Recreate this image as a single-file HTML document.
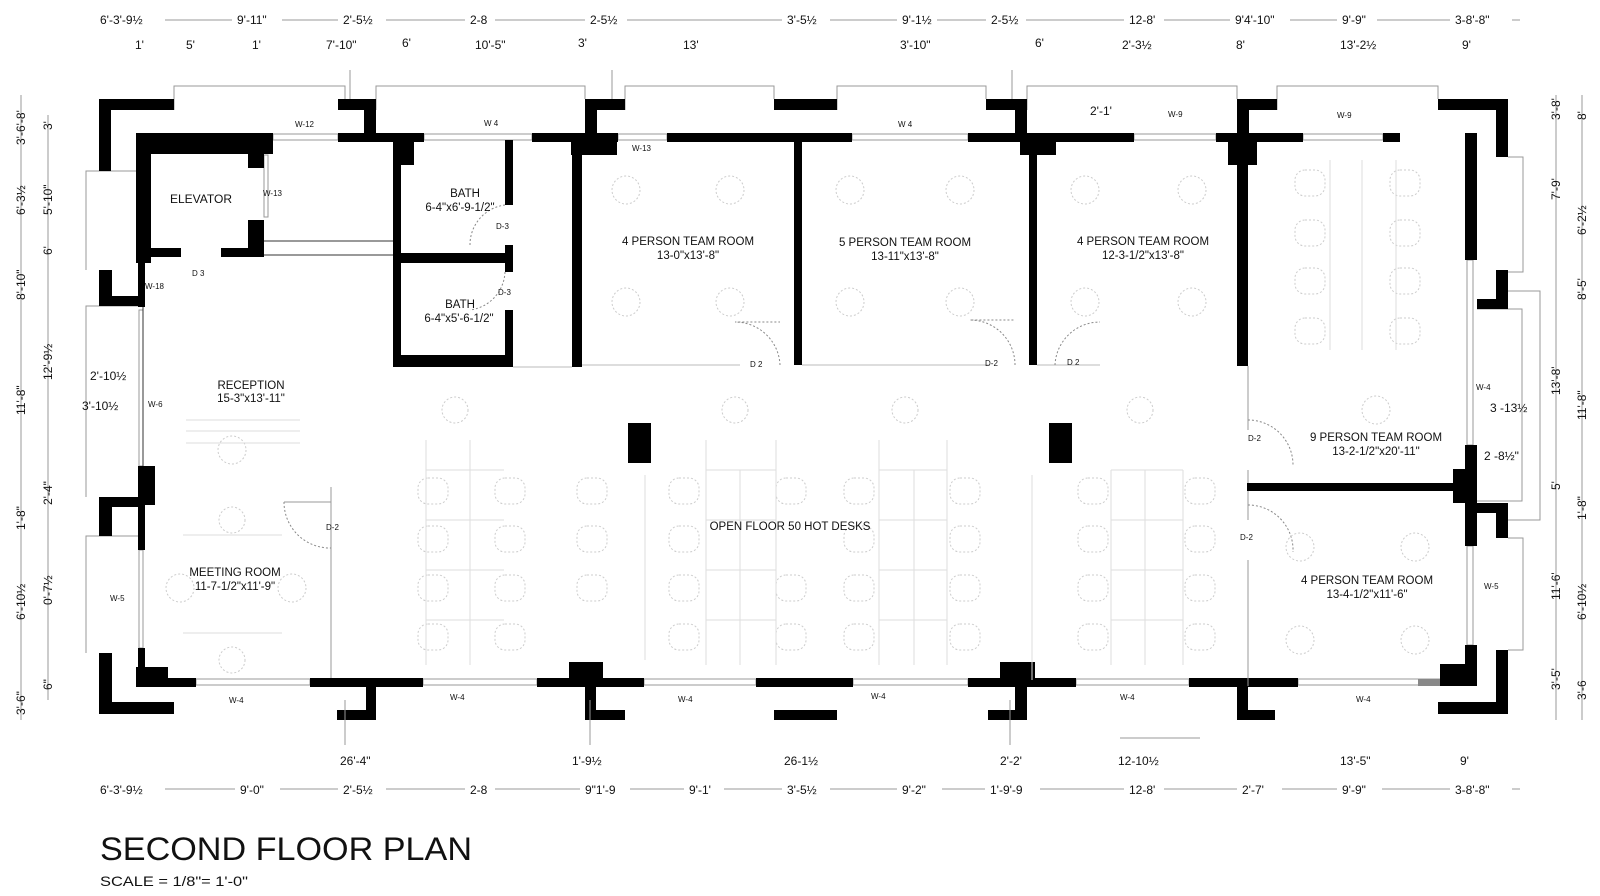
<!DOCTYPE html>
<html><head><meta charset="utf-8"><style>
html,body{margin:0;padding:0;background:#fff;}
svg{display:block;}
text{font-family:"Liberation Sans",sans-serif;fill:#111;}
.d{font-size:12px;fill:#555;}
.lbl{font-size:11.5px;text-anchor:middle;}
.w{font-size:8px;fill:#333;}
</style></head><body>
<svg width="1600" height="896" viewBox="0 0 1600 896" xmlns="http://www.w3.org/2000/svg">
<rect width="1600" height="896" fill="#fff"/>

<!-- window frames (thin) -->
<g fill="none" stroke="#999" stroke-width="1">
<path d="M174 110 V86 H345 V99"/><path d="M376 110 V86 H585 V99"/>
<path d="M625 110 V86 H774 V99"/><path d="M837 110 V86 H986 V99"/>
<path d="M1027 110 V86 H1237 V99"/><path d="M1277 110 V86 H1438 V99"/>
<path d="M1508 157 H1523 V272 H1508"/><path d="M1508 291 H1540 V520 H1508"/>
<path d="M1477 309 H1522 V501 H1477"/><path d="M1508 538 H1523 V650 H1508"/>
<path d="M138 171 H86 V270"/><path d="M138 306 H86 V497"/><path d="M138 536 H86 V653"/>
<rect x="273" y="134" width="65" height="6"/><rect x="424" y="134" width="108" height="6"/>
<rect x="618" y="134" width="49" height="6"/><rect x="852" y="134" width="116" height="6"/>
<rect x="1134" y="134" width="82" height="6"/><rect x="1303" y="134" width="80" height="6"/>
<rect x="196" y="679" width="114" height="6"/><rect x="423" y="679" width="114" height="6"/>
<rect x="644" y="679" width="112" height="6"/><rect x="853" y="679" width="115" height="6"/>
<rect x="1076" y="679" width="113" height="6"/><rect x="1298" y="679" width="142" height="6"/>
<rect x="1467" y="260" width="6" height="185"/><rect x="1467" y="546" width="6" height="99"/>
<rect x="139" y="310" width="4" height="156"/><rect x="139" y="550" width="4" height="98"/>
<rect x="264" y="155" width="4" height="62"/>
</g>

<!-- walls -->
<g fill="#000">
<!-- top outer -->
<rect x="99" y="99" width="75" height="11"/><rect x="99" y="99" width="12" height="72"/>
<rect x="338" y="99" width="38" height="11"/><rect x="364" y="99" width="12" height="35"/>
<rect x="585" y="99" width="40" height="11"/><rect x="585" y="99" width="12" height="36"/>
<rect x="774" y="99" width="63" height="11"/>
<rect x="986" y="99" width="41" height="11"/><rect x="1015" y="99" width="12" height="36"/>
<rect x="1237" y="99" width="40" height="11"/><rect x="1237" y="99" width="12" height="36"/>
<rect x="1438" y="99" width="70" height="11"/><rect x="1496" y="99" width="12" height="58"/>
<!-- right outer -->
<rect x="1496" y="270" width="12" height="39"/><rect x="1477" y="299" width="31" height="10"/>
<rect x="1477" y="503" width="31" height="10"/><rect x="1496" y="503" width="12" height="35"/>
<rect x="1496" y="650" width="12" height="64"/><rect x="1438" y="702" width="70" height="12"/>
<!-- left outer -->
<rect x="99" y="270" width="13" height="36"/><rect x="99" y="296" width="39" height="10"/>
<rect x="99" y="497" width="39" height="10"/><rect x="99" y="497" width="13" height="39"/>
<rect x="99" y="653" width="13" height="61"/><rect x="99" y="702" width="75" height="12"/>
<!-- bottom outer -->
<rect x="366" y="686" width="10" height="34"/><rect x="337" y="710" width="39" height="10"/>
<rect x="585" y="686" width="11" height="34"/><rect x="585" y="710" width="40" height="10"/>
<rect x="774" y="710" width="63" height="10"/>
<rect x="1015" y="686" width="12" height="34"/><rect x="988" y="710" width="39" height="10"/>
<rect x="1237" y="686" width="11" height="34"/><rect x="1237" y="710" width="38" height="10"/>
<!-- inner top -->
<rect x="136" y="133" width="137" height="21"/>
<rect x="338" y="133" width="86" height="9"/>
<rect x="532" y="133" width="86" height="9"/>
<rect x="571" y="133" width="46" height="22"/>
<rect x="667" y="133" width="185" height="9"/>
<rect x="968" y="133" width="166" height="9"/>
<rect x="1020" y="133" width="36" height="22"/>
<rect x="1216" y="133" width="87" height="9"/>
<rect x="1228" y="133" width="29" height="32"/>
<rect x="1383" y="133" width="17" height="9"/>
<!-- right inner -->
<rect x="1465" y="133" width="12" height="127"/>
<rect x="1465" y="445" width="12" height="101"/>
<rect x="1453" y="469" width="24" height="34"/>
<rect x="1465" y="645" width="12" height="41"/>
<rect x="1440" y="664" width="37" height="22"/>
<!-- bottom inner -->
<rect x="136" y="678" width="60" height="9"/><rect x="136" y="667" width="32" height="20"/>
<rect x="310" y="678" width="113" height="9"/>
<rect x="537" y="678" width="107" height="9"/><rect x="569" y="662" width="34" height="16"/>
<rect x="756" y="678" width="97" height="9"/>
<rect x="968" y="678" width="108" height="9"/><rect x="1000" y="662" width="35" height="16"/>
<rect x="1189" y="678" width="109" height="9"/>
<!-- left inner -->
<rect x="136" y="133" width="15" height="130"/>
<rect x="136" y="248" width="45" height="9"/><rect x="221" y="248" width="43" height="9"/>
<rect x="248" y="133" width="16" height="35"/><rect x="248" y="220" width="16" height="37"/>
<rect x="138" y="257" width="7" height="50"/>
<rect x="138" y="466" width="17" height="39"/><rect x="138" y="505" width="7" height="45"/>
<rect x="138" y="648" width="7" height="35"/>
<!-- bath -->
<rect x="393" y="140" width="8" height="227"/><rect x="393" y="140" width="21" height="25"/>
<rect x="393" y="355" width="120" height="12"/>
<rect x="401" y="253" width="112" height="10"/>
<rect x="505" y="140" width="8" height="65"/><rect x="505" y="245" width="8" height="27"/><rect x="505" y="310" width="8" height="57"/>
<!-- team room walls -->
<rect x="572" y="140" width="10" height="227"/>
<rect x="794" y="140" width="8" height="225"/>
<rect x="1029" y="140" width="8" height="225"/>
<rect x="1237" y="140" width="11" height="226"/>
<rect x="1247" y="483" width="206" height="8"/>
<!-- columns -->
<rect x="628" y="423" width="23" height="40"/><rect x="1049" y="423" width="23" height="40"/>
</g>
<rect x="1418" y="679" width="22" height="7" fill="#888"/>

<!-- thin interior lines -->
<g stroke="#333" stroke-width="1" fill="none">
<line x1="264" y1="241" x2="393" y2="241"/><line x1="264" y1="255" x2="393" y2="255"/>
<line x1="143" y1="307" x2="143" y2="466"/>
<line x1="582" y1="365" x2="740" y2="365" stroke="#bbb"/>
<line x1="802" y1="365" x2="990" y2="365" stroke="#bbb"/>
<line x1="1037" y1="365" x2="1100" y2="365" stroke="#bbb"/>
<line x1="1248" y1="366" x2="1248" y2="430" stroke="#999"/>
<line x1="1248" y1="470" x2="1248" y2="483" stroke="#999"/>
<line x1="1248" y1="491" x2="1248" y2="520" stroke="#999"/>
<line x1="1248" y1="560" x2="1248" y2="686" stroke="#999"/>
<line x1="331" y1="487" x2="331" y2="678" stroke="#999"/>
<line x1="284" y1="502" x2="331" y2="502" stroke="#999"/>
<line x1="513" y1="367" x2="572" y2="367" stroke="#bbb"/>
</g>

<!-- door arcs -->
<g stroke="#888" stroke-width="1" fill="none" stroke-dasharray="2,2">
<path d="M780 365 A45 45 0 0 0 735 322 L780 322"/>
<path d="M1015 365 A45 45 0 0 0 970 320 L1015 320"/>
<path d="M1055 365 A45 45 0 0 1 1100 322"/>
<path d="M1248 420 A45 45 0 0 1 1293 465"/>
<path d="M1248 505 A45 45 0 0 1 1293 552"/>
<path d="M284 502 A46 46 0 0 0 331 548"/>
<path d="M505 205 A40 40 0 0 0 470 245"/>
<path d="M505 272 A40 40 0 0 1 470 310"/>
</g>

<!-- furniture (faint) -->
<g stroke="#ccc" stroke-width="1" fill="none" stroke-dasharray="2,2">
<rect x="418" y="478" width="30" height="26" rx="10"/><rect x="418" y="526" width="30" height="26" rx="10"/><rect x="418" y="575" width="30" height="26" rx="10"/><rect x="418" y="624" width="30" height="26" rx="10"/>
<rect x="495" y="478" width="30" height="26" rx="10"/><rect x="495" y="526" width="30" height="26" rx="10"/><rect x="495" y="575" width="30" height="26" rx="10"/><rect x="495" y="624" width="30" height="26" rx="10"/>
<rect x="577" y="478" width="30" height="26" rx="10"/><rect x="577" y="526" width="30" height="26" rx="10"/><rect x="577" y="575" width="30" height="26" rx="10"/>
<rect x="669" y="478" width="30" height="26" rx="10"/><rect x="669" y="526" width="30" height="26" rx="10"/><rect x="669" y="575" width="30" height="26" rx="10"/><rect x="669" y="624" width="30" height="26" rx="10"/>
<rect x="776" y="478" width="30" height="26" rx="10"/><rect x="776" y="575" width="30" height="26" rx="10"/><rect x="776" y="624" width="30" height="26" rx="10"/>
<rect x="844" y="478" width="30" height="26" rx="10"/><rect x="844" y="526" width="30" height="26" rx="10"/><rect x="844" y="575" width="30" height="26" rx="10"/><rect x="844" y="624" width="30" height="26" rx="10"/>
<rect x="950" y="478" width="30" height="26" rx="10"/><rect x="950" y="526" width="30" height="26" rx="10"/><rect x="950" y="575" width="30" height="26" rx="10"/><rect x="950" y="624" width="30" height="26" rx="10"/>
<rect x="1078" y="478" width="30" height="26" rx="10"/><rect x="1078" y="526" width="30" height="26" rx="10"/><rect x="1078" y="575" width="30" height="26" rx="10"/><rect x="1078" y="624" width="30" height="26" rx="10"/>
<rect x="1185" y="478" width="30" height="26" rx="10"/><rect x="1185" y="526" width="30" height="26" rx="10"/><rect x="1185" y="575" width="30" height="26" rx="10"/><rect x="1185" y="624" width="30" height="26" rx="10"/>
<rect x="1295" y="170" width="30" height="26" rx="10"/><rect x="1295" y="220" width="30" height="26" rx="10"/><rect x="1295" y="268" width="30" height="26" rx="10"/><rect x="1295" y="318" width="30" height="26" rx="10"/>
<rect x="1390" y="170" width="30" height="26" rx="10"/><rect x="1390" y="220" width="30" height="26" rx="10"/><rect x="1390" y="268" width="30" height="26" rx="10"/><rect x="1390" y="318" width="30" height="26" rx="10"/>
<circle cx="626" cy="190" r="14"/><circle cx="730" cy="190" r="14"/><circle cx="626" cy="302" r="14"/><circle cx="730" cy="302" r="14"/>
<circle cx="850" cy="190" r="14"/><circle cx="960" cy="190" r="14"/><circle cx="850" cy="302" r="14"/><circle cx="960" cy="302" r="14"/>
<circle cx="1085" cy="190" r="14"/><circle cx="1192" cy="190" r="14"/><circle cx="1085" cy="302" r="14"/><circle cx="1192" cy="302" r="14"/>
<circle cx="455" cy="410" r="13"/><circle cx="735" cy="410" r="13"/><circle cx="905" cy="410" r="13"/><circle cx="1140" cy="410" r="13"/>
<circle cx="1300" cy="547" r="14"/><circle cx="1415" cy="547" r="14"/><circle cx="1300" cy="640" r="14"/><circle cx="1415" cy="640" r="14"/>
<circle cx="1376" cy="410" r="14"/><circle cx="232" cy="450" r="14"/><circle cx="232" cy="520" r="13"/><circle cx="232" cy="660" r="13"/>
<circle cx="180" cy="588" r="14"/><circle cx="292" cy="588" r="14"/>
</g>
<g stroke="#ddd" stroke-width="1" fill="none">
<line x1="426" y1="440" x2="426" y2="665"/><line x1="470" y1="440" x2="470" y2="665"/><line x1="426" y1="470" x2="504" y2="470"/><line x1="426" y1="520" x2="504" y2="520"/><line x1="426" y1="570" x2="504" y2="570"/><line x1="426" y1="620" x2="504" y2="620"/>
<line x1="706" y1="440" x2="706" y2="665"/><line x1="740" y1="470" x2="740" y2="665"/><line x1="776" y1="440" x2="776" y2="665"/><line x1="706" y1="470" x2="776" y2="470"/><line x1="706" y1="520" x2="776" y2="520"/><line x1="706" y1="570" x2="776" y2="570"/><line x1="706" y1="620" x2="776" y2="620"/>
<line x1="879" y1="440" x2="879" y2="665"/><line x1="914" y1="470" x2="914" y2="665"/><line x1="947" y1="440" x2="947" y2="665"/><line x1="879" y1="470" x2="947" y2="470"/><line x1="879" y1="520" x2="947" y2="520"/><line x1="879" y1="570" x2="947" y2="570"/><line x1="879" y1="620" x2="947" y2="620"/>
<line x1="1111" y1="470" x2="1111" y2="665"/><line x1="1145" y1="470" x2="1145" y2="665"/><line x1="1183" y1="470" x2="1183" y2="665"/><line x1="1111" y1="470" x2="1183" y2="470"/><line x1="1111" y1="520" x2="1183" y2="520"/><line x1="1111" y1="570" x2="1183" y2="570"/><line x1="1111" y1="620" x2="1183" y2="620"/>
<line x1="1362" y1="160" x2="1362" y2="350"/><line x1="1330" y1="160" x2="1330" y2="350"/><line x1="1396" y1="160" x2="1396" y2="350"/>
<line x1="1032" y1="475" x2="1032" y2="680"/><line x1="645" y1="475" x2="645" y2="660"/>
<line x1="186" y1="420" x2="300" y2="420"/><line x1="186" y1="431" x2="300" y2="431"/><line x1="186" y1="443" x2="300" y2="443"/>
<line x1="183" y1="535" x2="282" y2="535"/><line x1="183" y1="633" x2="282" y2="633"/>
</g>

<!-- room labels -->
<text class="lbl" x="201" y="203" style="font-size:12px">ELEVATOR</text>
<text class="lbl" x="465" y="197">BATH</text><text class="lbl" x="460" y="211">6-4"x6'-9-1/2"</text>
<text class="lbl" x="460" y="308">BATH</text><text class="lbl" x="459" y="322">6-4"x5'-6-1/2"</text>
<text class="lbl" x="688" y="245">4 PERSON TEAM ROOM</text><text class="lbl" x="688" y="259">13-0"x13'-8"</text>
<text class="lbl" x="905" y="246">5 PERSON TEAM ROOM</text><text class="lbl" x="905" y="260">13-11"x13'-8"</text>
<text class="lbl" x="1143" y="245">4 PERSON TEAM ROOM</text><text class="lbl" x="1143" y="259">12-3-1/2"x13'-8"</text>
<text class="lbl" x="251" y="389">RECEPTION</text><text class="lbl" x="251" y="402">15-3"x13'-11"</text>
<text class="lbl" x="235" y="576">MEETING ROOM</text><text class="lbl" x="235" y="590">11-7-1/2"x11'-9"</text>
<text class="lbl" x="790" y="530">OPEN FLOOR 50 HOT DESKS</text>
<text class="lbl" x="1376" y="441">9 PERSON TEAM ROOM</text><text class="lbl" x="1376" y="455">13-2-1/2"x20'-11"</text>
<text class="lbl" x="1367" y="584">4 PERSON TEAM ROOM</text><text class="lbl" x="1367" y="598">13-4-1/2"x11'-6"</text>

<!-- window/door tags -->
<g class="w">
<text x="295" y="127">W-12</text><text x="484" y="126">W 4</text><text x="632" y="151">W-13</text>
<text x="898" y="127">W 4</text><text x="1168" y="117">W-9</text><text x="1337" y="118">W-9</text>
<text x="263" y="196">W-13</text><text x="192" y="276">D 3</text><text x="145" y="289">W-18</text>
<text x="148" y="407">W-6</text><text x="110" y="601">W-5</text><text x="496" y="229">D-3</text><text x="498" y="295">D-3</text>
<text x="326" y="530">D-2</text><text x="750" y="367">D 2</text><text x="985" y="366">D-2</text><text x="1067" y="365">D 2</text>
<text x="1248" y="441">D-2</text><text x="1240" y="540">D-2</text>
<text x="1476" y="390">W-4</text><text x="1484" y="589">W-5</text>
<text x="229" y="703">W-4</text><text x="450" y="700">W-4</text><text x="678" y="702">W-4</text><text x="871" y="699">W-4</text>
<text x="1120" y="700">W-4</text><text x="1356" y="702">W-4</text>
</g>

<!-- dimension lines -->
<g stroke="#999" stroke-width="1">
<line x1="100" y1="20" x2="1520" y2="20"/>
<line x1="100" y1="789" x2="1520" y2="789"/>
<line x1="21" y1="95" x2="21" y2="720"/><line x1="48" y1="115" x2="48" y2="700"/>
<line x1="1556" y1="95" x2="1556" y2="720"/><line x1="1582" y1="95" x2="1582" y2="720"/>
<line x1="345" y1="700" x2="345" y2="745"/><line x1="590" y1="700" x2="590" y2="745"/>
<line x1="1010" y1="700" x2="1010" y2="745"/><line x1="1120" y1="738" x2="1200" y2="738"/>
<line x1="350" y1="70" x2="350" y2="99"/><line x1="612" y1="70" x2="612" y2="99"/><line x1="1012" y1="70" x2="1012" y2="99"/>
</g>
<g class="d">
<rect x="95" y="10" width="70" height="14" fill="#fff"/><text x="100" y="24">6'-3'-9½</text>
<rect x="232" y="10" width="50" height="14" fill="#fff"/><text x="237" y="24">9'-11"</text>
<rect x="338" y="10" width="48" height="14" fill="#fff"/><text x="343" y="24">2'-5½</text>
<rect x="465" y="10" width="30" height="14" fill="#fff"/><text x="470" y="24">2-8</text>
<rect x="585" y="10" width="42" height="14" fill="#fff"/><text x="590" y="24">2-5½</text>
<rect x="782" y="10" width="48" height="14" fill="#fff"/><text x="787" y="24">3'-5½</text>
<rect x="897" y="10" width="40" height="14" fill="#fff"/><text x="902" y="24">9'-1½</text>
<rect x="986" y="10" width="40" height="14" fill="#fff"/><text x="991" y="24">2-5½</text>
<rect x="1124" y="10" width="40" height="14" fill="#fff"/><text x="1129" y="24">12-8'</text>
<rect x="1230" y="10" width="60" height="14" fill="#fff"/><text x="1235" y="24">9'4'-10"</text>
<rect x="1337" y="10" width="40" height="14" fill="#fff"/><text x="1342" y="24">9'-9"</text>
<rect x="1450" y="10" width="62" height="14" fill="#fff"/><text x="1455" y="24">3-8'-8"</text>
<text x="135" y="49">1'</text><text x="186" y="49">5'</text><text x="252" y="49">1'</text><text x="326" y="49">7'-10"</text>
<text x="402" y="47">6'</text><text x="475" y="49">10'-5"</text><text x="578" y="47">3'</text><text x="683" y="49">13'</text>
<text x="900" y="49">3'-10"</text><text x="1035" y="47">6'</text><text x="1122" y="49">2'-3½</text><text x="1236" y="49">8'</text>
<text x="1340" y="49">13'-2½</text><text x="1462" y="49">9'</text>
<text x="340" y="765">26'-4"</text><text x="572" y="765">1'-9½</text><text x="784" y="765">26-1½</text>
<text x="1000" y="765">2'-2'</text><text x="1118" y="765">12-10½</text><text x="1340" y="765">13'-5"</text><text x="1460" y="765">9'</text>
<rect x="95" y="781" width="70" height="14" fill="#fff"/><text x="100" y="794">6'-3'-9½</text>
<rect x="235" y="781" width="45" height="14" fill="#fff"/><text x="240" y="794">9'-0"</text>
<rect x="338" y="781" width="48" height="14" fill="#fff"/><text x="343" y="794">2'-5½</text>
<rect x="465" y="781" width="30" height="14" fill="#fff"/><text x="470" y="794">2-8</text>
<rect x="580" y="781" width="50" height="14" fill="#fff"/><text x="585" y="794">9"1'-9</text>
<rect x="684" y="781" width="40" height="14" fill="#fff"/><text x="689" y="794">9'-1'</text>
<rect x="782" y="781" width="48" height="14" fill="#fff"/><text x="787" y="794">3'-5½</text>
<rect x="897" y="781" width="45" height="14" fill="#fff"/><text x="902" y="794">9'-2"</text>
<rect x="985" y="781" width="55" height="14" fill="#fff"/><text x="990" y="794">1'-9'-9</text>
<rect x="1124" y="781" width="40" height="14" fill="#fff"/><text x="1129" y="794">12-8'</text>
<rect x="1237" y="781" width="45" height="14" fill="#fff"/><text x="1242" y="794">2'-7'</text>
<rect x="1337" y="781" width="45" height="14" fill="#fff"/><text x="1342" y="794">9'-9"</text>
<rect x="1450" y="781" width="62" height="14" fill="#fff"/><text x="1455" y="794">3-8'-8"</text>
</g>
<!-- vertical dims -->
<g class="d">
<g transform="translate(25,145) rotate(-90)"><text>3'-6'-8'</text></g>
<g transform="translate(25,215) rotate(-90)"><text>6'-3½</text></g>
<g transform="translate(25,300) rotate(-90)"><text>8'-10"</text></g>
<g transform="translate(25,415) rotate(-90)"><text>11'-8"</text></g>
<g transform="translate(25,530) rotate(-90)"><text>1'-8"</text></g>
<g transform="translate(25,620) rotate(-90)"><text>6'-10½</text></g>
<g transform="translate(25,715) rotate(-90)"><text>3'-6"</text></g>
<g transform="translate(52,130) rotate(-90)"><text>3'</text></g>
<g transform="translate(52,215) rotate(-90)"><text>5'-10"</text></g>
<g transform="translate(52,255) rotate(-90)"><text>6'</text></g>
<g transform="translate(52,380) rotate(-90)"><text>12'-9½</text></g>
<g transform="translate(52,505) rotate(-90)"><text>2'-4"</text></g>
<g transform="translate(52,605) rotate(-90)"><text>0'-7½</text></g>
<g transform="translate(52,690) rotate(-90)"><text>6"</text></g>
<text x="90" y="380">2'-10½</text><text x="82" y="410">3'-10½</text>
<g transform="translate(1560,120) rotate(-90)"><text>3'-8'</text></g>
<g transform="translate(1560,200) rotate(-90)"><text>7'-9'</text></g>
<g transform="translate(1560,395) rotate(-90)"><text>13'-8'</text></g>
<g transform="translate(1560,490) rotate(-90)"><text>5'</text></g>
<g transform="translate(1560,600) rotate(-90)"><text>11'-6'</text></g>
<g transform="translate(1560,690) rotate(-90)"><text>3'-5'</text></g>
<g transform="translate(1586,120) rotate(-90)"><text>8'</text></g>
<g transform="translate(1586,235) rotate(-90)"><text>6'-2½</text></g>
<g transform="translate(1586,300) rotate(-90)"><text>8'-5'</text></g>
<g transform="translate(1586,420) rotate(-90)"><text>11'-8"</text></g>
<g transform="translate(1586,520) rotate(-90)"><text>1'-8"</text></g>
<g transform="translate(1586,620) rotate(-90)"><text>6'-10½</text></g>
<g transform="translate(1586,700) rotate(-90)"><text>3'-6</text></g>
<text x="1490" y="412">3 -13½</text><text x="1484" y="460">2 -8½"</text>
<text x="1090" y="115">2'-1'</text>
</g>

<text x="100" y="860" style="font-size:32px" textLength="372" lengthAdjust="spacingAndGlyphs">SECOND FLOOR PLAN</text>
<text x="100" y="886" style="font-size:14px" textLength="148" lengthAdjust="spacingAndGlyphs">SCALE = 1/8"= 1'-0"</text>
</svg>
</body></html>
